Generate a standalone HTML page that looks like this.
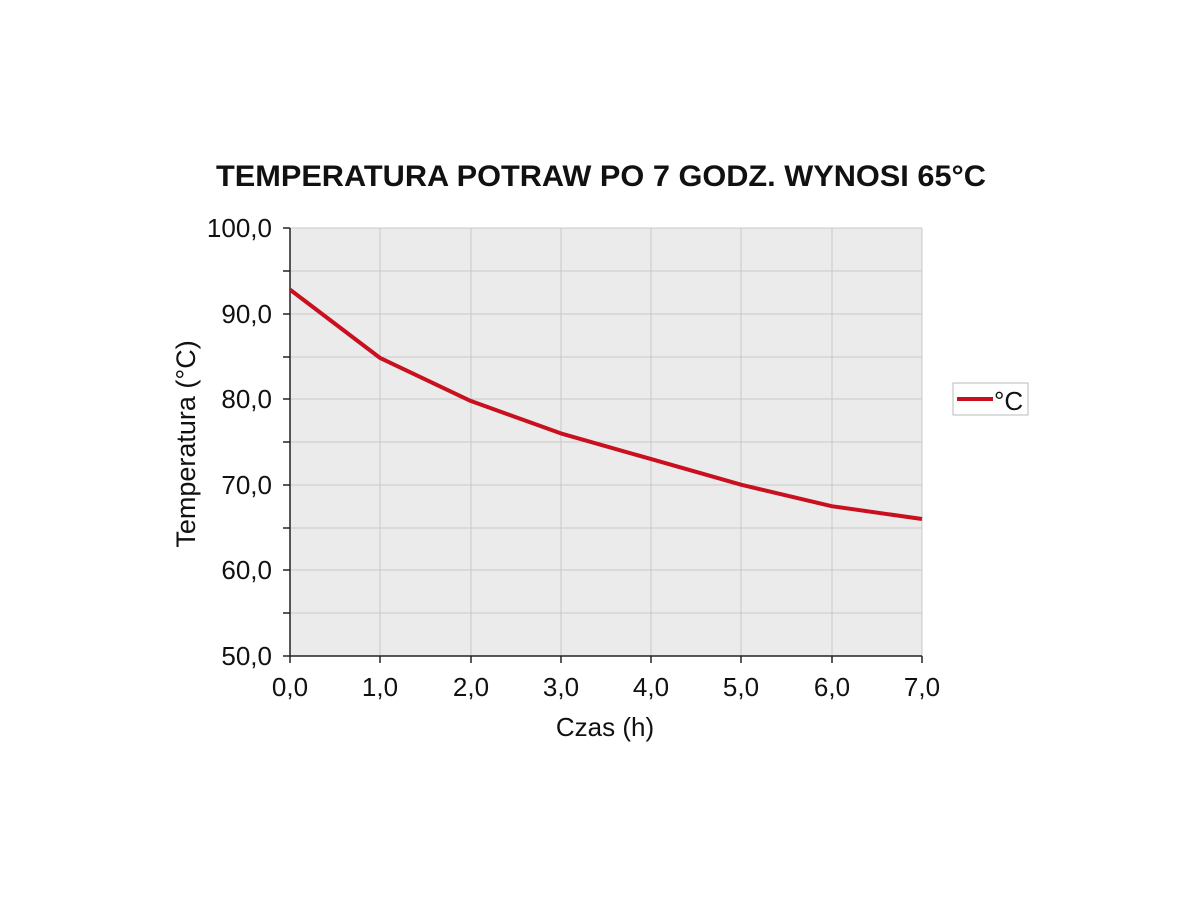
<!DOCTYPE html>
<html><head><meta charset="utf-8"><style>html,body{margin:0;padding:0;background:#fff}</style></head>
<body>
<svg width="1200" height="900" xmlns="http://www.w3.org/2000/svg" font-family="Liberation Sans, sans-serif">
<rect width="1200" height="900" fill="#fff"/>
<text x="216" y="186" textLength="770" lengthAdjust="spacingAndGlyphs" font-size="30" font-weight="bold" fill="#111">TEMPERATURA POTRAW PO 7 GODZ. WYNOSI 65°C</text>
<rect x="290" y="228" width="632" height="428" fill="#ebebeb"/>
<g stroke="#c8c8c8" stroke-width="1">
<line x1="290" y1="271" x2="922" y2="271"/><line x1="290" y1="314" x2="922" y2="314"/>
<line x1="290" y1="357" x2="922" y2="357"/><line x1="290" y1="399" x2="922" y2="399"/>
<line x1="290" y1="442" x2="922" y2="442"/><line x1="290" y1="485" x2="922" y2="485"/>
<line x1="290" y1="528" x2="922" y2="528"/><line x1="290" y1="570" x2="922" y2="570"/>
<line x1="290" y1="613" x2="922" y2="613"/><line x1="290" y1="228" x2="922" y2="228"/>
<line x1="380" y1="228" x2="380" y2="656"/><line x1="471" y1="228" x2="471" y2="656"/>
<line x1="561" y1="228" x2="561" y2="656"/><line x1="651" y1="228" x2="651" y2="656"/>
<line x1="741" y1="228" x2="741" y2="656"/><line x1="832" y1="228" x2="832" y2="656"/>
<line x1="922" y1="228" x2="922" y2="656"/>
</g>
<g stroke="#222" stroke-width="1.5">
<line x1="290" y1="228" x2="290" y2="656"/><line x1="290" y1="656" x2="922" y2="656"/>
<line x1="283" y1="228" x2="290" y2="228"/><line x1="283" y1="271" x2="290" y2="271"/>
<line x1="283" y1="314" x2="290" y2="314"/><line x1="283" y1="357" x2="290" y2="357"/>
<line x1="283" y1="399" x2="290" y2="399"/><line x1="283" y1="442" x2="290" y2="442"/>
<line x1="283" y1="485" x2="290" y2="485"/><line x1="283" y1="528" x2="290" y2="528"/>
<line x1="283" y1="570" x2="290" y2="570"/><line x1="283" y1="613" x2="290" y2="613"/>
<line x1="283" y1="656" x2="290" y2="656"/>
<line x1="290" y1="656" x2="290" y2="663"/><line x1="380" y1="656" x2="380" y2="663"/>
<line x1="471" y1="656" x2="471" y2="663"/><line x1="561" y1="656" x2="561" y2="663"/>
<line x1="651" y1="656" x2="651" y2="663"/><line x1="741" y1="656" x2="741" y2="663"/>
<line x1="832" y1="656" x2="832" y2="663"/><line x1="922" y1="656" x2="922" y2="663"/>
</g>
<g font-size="26" fill="#111" text-anchor="end">
<text x="272" y="237">100,0</text><text x="272" y="323">90,0</text>
<text x="272" y="408">80,0</text><text x="272" y="494">70,0</text>
<text x="272" y="579">60,0</text><text x="272" y="665">50,0</text>
</g>
<g font-size="26" fill="#111" text-anchor="middle">
<text x="290" y="696">0,0</text><text x="380" y="696">1,0</text><text x="471" y="696">2,0</text>
<text x="561" y="696">3,0</text><text x="651" y="696">4,0</text><text x="741" y="696">5,0</text>
<text x="832" y="696">6,0</text><text x="922" y="696">7,0</text>
<text x="605" y="736">Czas (h)</text>
<text transform="translate(195,444) rotate(-90)" font-size="27">Temperatura (°C)</text>
</g>
<polyline fill="none" stroke="#c8101e" stroke-width="4" stroke-linejoin="round" points="290,289.6 380.3,358.1 470.6,400.9 560.9,433.4 651.2,459.1 741.5,484.8 831.7,506.2 922,519"/>
<rect x="953" y="383" width="75" height="32" fill="#fff" stroke="#bbb" stroke-width="1"/>
<line x1="957" y1="399" x2="993" y2="399" stroke="#c8101e" stroke-width="4"/>
<text x="994" y="410" font-size="26" fill="#111">°C</text>
</svg>
</body></html>
